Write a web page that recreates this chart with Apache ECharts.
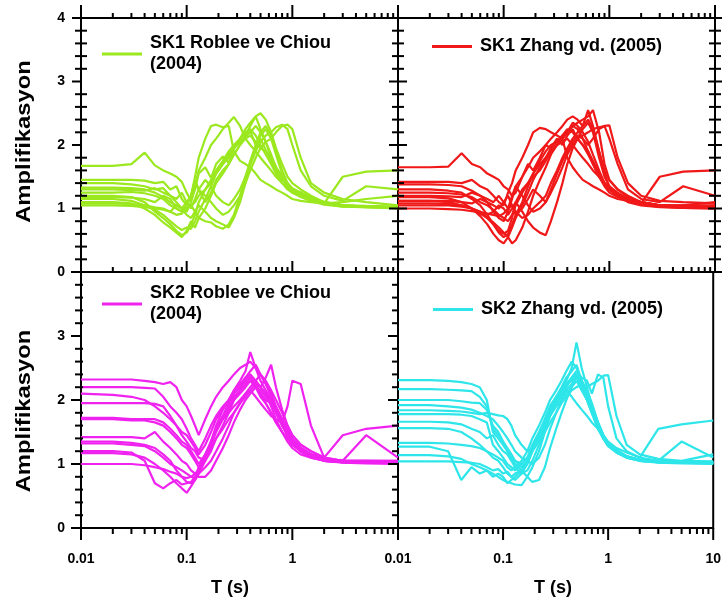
<!DOCTYPE html>
<html><head><meta charset="utf-8">
<script src="https://cdn.jsdelivr.net/npm/echarts@6/dist/echarts.min.js"></script>
<style>html,body{margin:0;padding:0;background:#fff}#c{width:724px;height:599px}</style>
</head><body><div id="c"></div>
<script>
// Periods T (s)
const periods = [0.01,0.02,0.03,0.04,0.05,0.06,0.07,0.08,0.09,0.1,
  0.11,0.12,0.13,0.15,0.17,0.19,0.22,0.25,0.28,0.32,
  0.36,0.4,0.45,0.5,0.56,0.63,0.7,0.8,0.9,1.0,
  1.2,1.5,2.0,3.0,5.0,10];

// SK1 Roblee ve Chiou (2004)
const sk1Roblee = [
 [1.67,1.67,1.70,1.88,1.68,1.60,1.55,1.50,1.42,1.25, 1.12,1.30,1.55,1.65,1.48,1.70,1.82,1.72,1.95,2.05, 2.12,2.22,2.00,2.10,1.92,1.75,1.60,1.45,1.38,1.30, 1.25,1.18,1.10,1.05,1.04,1.03],
 [1.45,1.45,1.45,1.44,1.40,1.42,1.30,1.35,1.15,1.05, 1.20,1.45,1.30,1.10,1.25,1.45,1.60,1.70,1.85,2.00, 2.15,2.30,2.45,2.25,2.05,1.80,1.65,1.50,1.40,1.32, 1.25,1.15,1.08,1.50,1.58,1.60],
 [1.40,1.40,1.38,1.35,1.30,1.32,1.20,1.10,1.00,0.95, 1.10,1.35,1.60,1.80,2.00,2.10,2.25,2.35,2.44,2.30, 2.10,2.00,1.90,1.80,1.70,1.60,1.50,1.40,1.35,1.30, 1.25,1.15,1.10,1.05,1.03,1.02],
 [1.33,1.33,1.32,1.30,1.25,1.18,1.10,1.05,1.00,1.10, 1.20,1.50,1.80,2.10,2.30,2.32,2.28,2.30,1.90,1.75, 1.70,1.65,1.55,1.45,1.40,1.35,1.30,1.25,1.20,1.15, 1.12,1.10,1.08,1.10,1.15,1.20],
 [1.25,1.25,1.26,1.24,1.20,1.15,1.05,1.00,0.95,1.00, 1.05,1.10,1.20,1.30,1.40,1.55,1.70,1.85,1.95,2.10, 2.25,2.35,2.45,2.50,2.40,2.20,1.95,1.70,1.50,1.40, 1.30,1.20,1.10,1.05,1.03,1.02],
 [1.20,1.20,1.18,1.10,0.95,0.85,0.75,0.65,0.58,0.62, 0.75,0.90,1.10,1.30,1.45,1.60,1.75,1.90,2.00,2.10, 2.20,2.25,2.15,2.00,1.85,1.70,1.55,1.40,1.30,1.25, 1.20,1.15,1.10,1.05,1.02,1.01],
 [1.15,1.15,1.12,1.05,0.98,0.90,0.80,0.72,0.66,0.70, 0.68,0.80,0.95,1.15,1.35,1.55,1.70,1.80,1.95,2.05, 2.15,2.20,2.30,2.20,2.05,1.85,1.65,1.50,1.40,1.30, 1.22,1.15,1.08,1.03,1.02,1.00],
 [1.08,1.08,1.07,1.05,1.02,1.00,0.95,1.05,1.00,0.90, 0.85,0.95,1.05,0.95,0.85,0.80,0.75,0.70,0.85,1.10, 1.40,1.70,1.95,2.15,2.25,2.10,1.85,1.55,1.35,1.25, 1.18,1.12,1.08,1.05,1.03,1.02],
 [1.18,1.18,1.17,1.15,1.10,1.20,1.15,1.00,0.95,1.05, 1.20,1.40,1.30,1.20,1.10,1.00,0.90,0.95,1.05,1.20, 1.40,1.60,1.80,1.95,2.05,2.10,2.20,2.30,2.32,2.25, 1.80,1.40,1.25,1.15,1.10,1.05],
 [1.10,1.10,1.08,1.00,0.90,0.78,0.70,0.62,0.55,0.65, 0.80,0.70,0.85,1.00,1.20,1.40,1.55,1.70,1.85,2.00, 2.10,2.15,2.05,1.95,1.90,1.80,1.65,1.50,1.35,1.25, 1.20,1.15,1.10,1.05,1.03,1.02],
 [1.30,1.30,1.29,1.28,1.32,1.25,1.20,1.15,1.25,1.10, 1.00,1.15,1.30,1.45,1.35,1.20,1.10,1.05,1.15,1.30, 1.50,1.70,1.90,2.05,2.15,2.20,2.28,2.32,2.25,2.00, 1.60,1.35,1.20,1.12,1.35,1.30],
 [1.05,1.05,1.04,1.02,1.00,0.98,0.95,0.90,0.92,1.00, 1.05,0.95,0.85,0.80,0.78,0.72,0.68,0.75,0.90,1.20, 1.50,1.75,2.00,2.20,2.30,2.15,1.90,1.60,1.40,1.30, 1.20,1.12,1.06,1.03,1.02,1.01]
];

// SK1 Zhang vd. (2005)
const sk1Zhang = [
 [1.65,1.65,1.66,1.87,1.70,1.65,1.55,1.50,1.45,1.35, 1.30,1.20,1.25,1.50,1.70,1.60,1.80,2.00,1.95,2.10, 2.00,2.15,2.25,2.10,2.00,1.85,1.70,1.50,1.40,1.35, 1.25,1.15,1.10,1.05,1.03,1.02],
 [1.42,1.42,1.42,1.40,1.45,1.35,1.30,1.20,1.10,1.05, 1.25,1.40,1.60,1.80,2.00,2.20,2.27,2.25,2.20,2.15, 2.10,1.80,1.65,1.55,1.45,1.40,1.35,1.30,1.25,1.20, 1.15,1.12,1.08,1.50,1.58,1.60],
 [1.38,1.38,1.37,1.35,1.28,1.20,1.10,0.95,0.85,0.80, 0.95,1.15,1.35,1.50,1.65,1.80,1.90,2.00,2.10,2.20, 2.30,2.40,2.45,2.40,2.30,2.55,2.30,1.90,1.60,1.45, 1.30,1.20,1.10,1.05,1.03,1.02],
 [1.30,1.30,1.28,1.25,1.15,1.05,0.90,0.75,0.62,0.55, 0.60,0.75,0.90,1.10,1.35,1.55,1.75,1.90,2.00,2.05, 2.15,2.25,2.20,2.10,2.00,1.90,1.75,1.55,1.40,1.30, 1.22,1.15,1.10,1.05,1.05,1.10],
 [1.18,1.18,1.16,1.10,1.00,0.88,0.75,0.60,0.50,0.45, 0.55,0.70,0.85,1.05,1.25,1.45,1.65,1.80,1.95,2.05, 2.15,2.20,2.30,2.25,2.10,1.90,1.70,1.50,1.35,1.25, 1.18,1.12,1.08,1.03,1.02,1.01],
 [1.12,1.12,1.10,1.05,1.00,0.92,0.85,0.78,0.70,0.62, 0.55,0.45,0.50,0.70,0.95,1.20,1.45,1.65,1.85,2.00, 2.10,2.20,2.35,2.30,2.20,2.05,1.85,1.60,1.40,1.30, 1.20,1.12,1.06,1.03,1.01,1.00],
 [1.05,1.05,1.05,1.03,1.00,0.95,0.90,0.95,1.05,1.00, 0.90,1.00,1.10,0.95,0.80,0.70,0.62,0.58,0.80,1.10, 1.40,1.70,1.95,2.10,2.25,2.35,2.20,1.80,1.50,1.35, 1.22,1.12,1.06,1.03,1.02,1.01],
 [1.00,1.00,0.99,0.98,0.96,0.94,0.92,0.90,0.88,0.92, 1.00,1.05,0.95,0.85,0.90,1.00,1.10,1.20,1.40,1.60, 1.80,1.95,2.10,2.20,2.30,2.40,2.25,1.90,1.55,1.35, 1.20,1.10,1.05,1.02,1.01,1.00],
 [1.20,1.20,1.19,1.18,1.25,1.20,1.15,1.10,1.20,1.10, 1.00,1.20,1.35,1.20,1.05,0.95,1.00,1.10,1.25,1.45, 1.65,1.85,2.00,2.10,2.15,2.20,2.25,2.28,2.30,2.31, 1.80,1.40,1.20,1.12,1.10,1.08],
 [1.12,1.12,1.12,1.10,1.08,1.15,1.10,1.05,1.00,1.10, 1.20,1.05,0.90,1.00,1.15,1.30,1.20,1.10,1.30,1.55, 1.75,1.90,2.05,2.15,2.10,2.00,2.10,2.25,2.30,2.10, 1.70,1.30,1.15,1.10,1.35,1.20],
 [1.25,1.25,1.24,1.22,1.18,1.10,1.05,0.98,0.90,0.85, 0.80,0.90,1.05,1.25,1.40,1.55,1.70,1.80,1.90,2.00, 2.10,2.20,2.30,2.35,2.40,2.45,2.55,2.20,1.70,1.45, 1.30,1.18,1.10,1.05,1.03,1.02],
 [1.08,1.08,1.07,1.05,1.00,0.95,0.85,0.75,0.65,0.60, 0.65,0.85,1.10,1.30,1.40,1.50,1.60,1.75,1.90,2.00, 2.05,2.10,2.00,1.90,1.80,1.70,1.60,1.50,1.40,1.30, 1.20,1.12,1.08,1.05,1.05,1.05]
];

// SK2 Roblee ve Chiou (2004)
const sk2Roblee = [
 [2.32,2.32,2.32,2.30,2.28,2.25,2.28,2.20,2.00,1.90, 1.75,1.60,1.45,1.70,1.90,2.05,2.20,2.30,2.40,2.50, 2.55,2.60,2.50,2.40,2.30,2.15,2.00,1.80,1.60,1.45, 1.30,1.20,1.10,1.05,1.05,1.04],
 [2.20,2.20,2.20,2.19,2.18,2.05,1.90,1.80,1.70,1.55, 1.40,1.30,1.20,1.40,1.60,1.75,1.90,2.00,2.10,2.20, 2.35,2.45,2.55,2.40,2.25,2.10,1.90,1.70,1.50,1.35, 1.25,1.15,1.08,1.05,1.05,1.05],
 [2.10,2.08,2.05,2.00,1.90,1.80,1.70,1.60,1.50,1.45, 1.35,1.25,1.15,1.30,1.50,1.70,1.85,2.00,2.15,2.30, 2.45,2.75,2.50,2.30,2.15,2.00,1.80,1.60,1.45,1.35, 1.25,1.15,1.08,1.05,1.04,1.03],
 [1.95,1.95,1.95,1.95,1.94,1.90,1.75,1.60,1.45,1.35, 1.25,1.20,1.10,1.05,1.20,1.40,1.60,1.80,2.00,2.15, 2.25,2.35,2.30,2.20,2.35,2.55,2.20,1.85,1.60,1.45, 1.30,1.20,1.10,1.05,1.05,1.05],
 [1.70,1.70,1.68,1.68,1.65,1.60,1.50,1.40,1.30,1.25, 1.15,1.05,0.95,1.10,1.30,1.50,1.70,1.85,2.00,2.10, 2.20,2.30,2.20,2.10,2.00,1.95,1.85,1.70,1.55,1.40, 1.25,1.15,1.08,1.05,1.45,1.10],
 [1.42,1.42,1.42,1.40,1.50,1.35,1.25,1.15,1.05,1.00, 0.90,0.85,0.90,1.10,1.35,1.60,1.85,2.00,2.15,2.25, 2.35,2.40,2.30,2.20,2.10,1.90,1.70,1.50,1.40,1.30, 1.20,1.12,1.06,1.03,1.02,1.02],
 [1.35,1.35,1.33,1.30,1.25,1.15,1.05,0.90,0.80,0.72, 0.70,0.75,0.85,1.05,1.30,1.55,1.75,1.95,2.10,2.20, 2.30,2.40,2.25,2.10,1.95,1.80,1.65,1.50,1.40,1.30, 1.20,1.12,1.05,1.03,1.02,1.02],
 [1.20,1.20,1.18,1.05,0.70,0.62,0.70,0.75,0.68,0.70, 0.72,0.80,0.95,1.15,1.35,1.55,1.75,1.90,2.05,2.15, 2.25,2.35,2.20,2.05,1.95,1.80,1.65,1.50,1.35,1.25, 1.15,1.10,1.05,1.03,1.02,1.02],
 [1.17,1.17,1.15,1.10,1.00,0.90,0.80,0.70,0.62,0.55, 0.65,0.75,0.85,0.95,1.05,1.20,1.40,1.60,1.80,1.95, 2.10,2.20,2.30,2.40,2.25,2.05,1.85,1.65,1.45,1.35, 1.22,1.12,1.05,1.03,1.02,1.01],
 [1.00,1.00,1.00,0.98,0.95,0.92,0.88,0.85,0.80,0.78, 0.80,0.85,0.80,0.80,0.90,1.05,1.25,1.45,1.65,1.85, 2.00,2.10,2.20,2.15,2.05,1.95,1.80,1.60,1.45,1.35, 1.20,1.10,1.05,1.02,1.01,1.00],
 [1.72,1.72,1.70,1.70,1.70,1.65,1.55,1.45,1.35,1.30, 1.20,1.10,1.00,1.15,1.35,1.55,1.70,1.80,1.90,2.00, 2.10,2.15,2.05,1.95,1.85,1.75,1.70,1.65,1.90,2.30, 2.25,1.60,1.10,1.45,1.55,1.60],
 [1.32,1.32,1.30,1.28,1.20,1.10,1.00,0.95,0.90,0.85, 0.80,0.78,0.90,1.10,1.25,1.40,1.55,1.70,1.80,1.95, 2.05,2.15,2.25,2.20,2.10,2.00,1.90,1.70,1.50,1.35, 1.22,1.12,1.06,1.03,1.02,1.02]
];

// SK2 Zhang vd. (2005)
const sk2Zhang = [
 [2.31,2.31,2.30,2.28,2.25,2.20,2.00,1.50,1.40,1.30, 1.20,1.10,1.05,1.00,1.10,1.30,1.50,1.70,1.90,2.05, 2.20,2.35,2.45,2.55,2.30,2.05,1.85,1.60,1.40,1.30, 1.20,1.12,1.06,1.03,1.02,1.02],
 [2.17,2.17,2.16,2.15,2.14,2.05,1.90,1.55,1.45,1.35, 1.25,1.15,1.05,0.95,1.05,1.25,1.45,1.65,1.85,2.00, 2.15,2.30,2.50,2.90,2.50,2.20,1.90,1.60,1.40,1.28, 1.18,1.10,1.05,1.03,1.02,1.01],
 [2.00,2.00,2.00,1.98,1.96,1.95,1.85,1.60,1.50,1.35, 1.20,1.10,1.00,0.90,1.00,1.20,1.40,1.60,1.80,1.95, 2.10,2.20,2.35,2.40,2.20,2.00,1.80,1.55,1.40,1.30, 1.20,1.12,1.06,1.03,1.02,1.02],
 [1.92,1.92,1.90,1.88,1.85,1.80,1.75,1.70,1.60,1.50, 1.40,1.30,1.20,1.10,1.05,1.00,1.10,1.30,1.55,1.80, 2.00,2.20,2.35,2.45,2.35,2.30,2.10,2.40,2.35,1.90, 1.40,1.20,1.10,1.05,1.04,1.03],
 [1.84,1.84,1.83,1.82,1.80,1.78,1.80,1.78,1.76,1.75, 1.70,1.60,1.45,1.30,1.20,1.25,1.40,1.60,1.80,1.95, 2.10,2.15,2.05,1.95,1.85,1.75,1.65,1.55,1.45,1.35, 1.25,1.18,1.10,1.55,1.62,1.68],
 [1.66,1.66,1.65,1.62,1.55,1.50,1.40,1.45,1.30,1.20, 1.15,1.05,0.95,0.85,0.90,1.05,1.30,1.55,1.75,1.90, 2.00,2.10,2.20,2.30,2.15,2.00,1.80,1.60,1.40,1.30, 1.20,1.12,1.06,1.03,1.02,1.02],
 [1.56,1.56,1.55,1.50,1.40,1.30,1.20,1.10,1.05,0.95, 0.85,0.80,0.75,0.85,1.00,1.20,1.45,1.70,1.90,2.05, 2.15,2.25,2.30,2.40,2.25,2.05,1.85,1.60,1.45,1.32, 1.22,1.12,1.06,1.05,1.35,1.10],
 [1.27,1.27,1.20,0.75,0.95,0.85,0.90,0.80,0.85,0.80, 0.70,0.75,0.80,0.90,1.05,1.25,1.45,1.65,1.85,2.00, 2.15,2.25,2.35,2.45,2.30,2.10,1.90,1.65,1.45,1.32, 1.20,1.12,1.06,1.03,1.02,1.02],
 [1.14,1.14,1.12,1.08,1.00,0.95,0.90,0.85,0.80,0.75, 0.72,0.70,0.68,0.67,0.80,0.95,1.20,1.50,1.75,1.95, 2.05,2.15,2.25,2.35,2.20,2.00,1.80,1.55,1.40,1.28, 1.18,1.10,1.05,1.03,1.02,1.01],
 [1.04,1.04,1.04,1.03,1.02,1.00,0.95,0.90,0.92,0.85, 0.88,0.80,0.85,0.90,0.80,0.72,0.75,0.95,1.25,1.55, 1.80,2.00,2.20,2.40,2.30,2.15,1.95,1.65,1.45,1.30, 1.18,1.10,1.05,1.02,1.01,1.00],
 [1.78,1.78,1.78,1.77,1.75,1.70,1.65,1.30,1.20,1.10, 1.00,0.95,0.90,1.00,1.10,1.20,1.35,1.50,1.65,1.80, 1.95,2.05,2.15,2.20,2.25,2.20,2.25,2.30,2.38,2.39, 1.75,1.30,1.15,1.08,1.05,1.04],
 [1.33,1.33,1.32,1.30,1.28,1.25,1.20,1.15,1.10,1.05, 0.95,0.90,0.95,1.05,1.20,1.40,1.60,1.80,2.00,2.15, 2.30,2.45,2.60,2.50,2.30,2.10,1.90,1.65,1.45,1.32, 1.22,1.12,1.06,1.04,1.05,1.15]
];

// Axis ticks and labels
const xMajorTicks = [0.01, 0.1, 1, 10];
const xTickLabels = ['0.01', '0.1', '1', '10'];
const yTickLabels = ['0', '1', '2', '3', '4'];
const legendNames = ['SK1 Roblee ve Chiou\n(2004)', 'SK1 Zhang vd. (2005)', 'SK2 Roblee ve Chiou\n(2004)', 'SK2 Zhang vd. (2005)'];
const colors = ['#9be81f', '#f01818', '#f022f0', '#2ee6ea'];
const curveSets = [sk1Roblee, sk1Zhang, sk2Roblee, sk2Zhang];

curveSets.forEach((s, i) => s.forEach((c, j) => { if (c.length !== periods.length) throw new Error('len ' + i + ',' + j + ':' + c.length); }));

const xMinor = [];
[0.01, 0.1, 1].forEach(d => { for (let k = 2; k <= 9; k++) xMinor.push(+(d * k).toFixed(4)); });
const xTicks = xMajorTicks.map(v => ({ v, major: true })).concat(xMinor.map(v => ({ v, major: false })));
const yTicks = [];
for (let i = 0; i <= 20; i++) yTicks.push({ v: i / 5, major: i % 5 === 0 });

const FONT = '"Liberation Sans", Arial, sans-serif';

const layout = [
  { left: 81, top: 18, height: 254, showX: false, showY: true, hideY: [],
    legend: { left: 97, top: 28 },
    tk: { top: { dir: -1, major: 13, minor: 5 }, bottom: { dir: -1, major: 11, minor: 5 },
          left: { mo: 9, mi: 0, no: 6, ni: 6 }, right: null } },
  { left: 398, top: 18, height: 254, showX: false, showY: false, hideY: [],
    legend: { left: 427, top: 31 },
    tk: { top: { dir: -1, major: 13, minor: 5 }, bottom: { dir: -1, major: 11, minor: 5 },
          left: { mo: 9, mi: 9, no: 6, ni: 6 }, right: { mo: 7, mi: 7, no: 6, ni: 6 } } },
  { left: 81, top: 272, height: 256, showX: true, showY: true, hideY: ['4'], hideX: ['10'],
    legend: { left: 97, top: 278 },
    tk: { top: null, bottom: { dir: 1, major: 12, minor: 6 },
          left: { mo: 10, mi: 0, no: 6, ni: 2 }, right: null } },
  { left: 398, top: 272, height: 256, showX: true, showY: false, hideY: [], hideX: [],
    legend: { left: 428, top: 294 },
    tk: { top: null, bottom: { dir: 1, major: 12, minor: 6 },
          left: { mo: 10, mi: 0, no: 6, ni: 0 }, right: null } }
];

const grid = [], xAxis = [], yAxis = [], series = [], legend = [];
layout.forEach((p, i) => {
  grid.push({ left: p.left, top: p.top, width: 317, height: p.height, show: true,
    borderColor: '#000', borderWidth: 2, backgroundColor: 'transparent', containLabel: false });
  xAxis.push({ type: 'log', logBase: 10, min: 0.01, max: 10, gridIndex: i, splitNumber: 3,
    axisLine: { show: false }, axisTick: { show: false }, splitLine: { show: false }, minorTick: { show: false },
    axisLabel: { show: p.showX, margin: 24, color: '#000', fontSize: 14, fontWeight: 'bold', fontFamily: FONT,
      showMinLabel: true, showMaxLabel: true,
      formatter: v => { const e = Math.round(Math.log10(v)) + 2; const s = xTickLabels[e] || ''; return (p.hideX || []).includes(s) ? '' : s; } } });
  yAxis.push({ type: 'value', min: 0, max: 4, interval: 1, gridIndex: i,
    axisLine: { show: false }, axisTick: { show: false }, splitLine: { show: false },
    axisLabel: { show: p.showY, margin: 16, color: '#000', fontSize: 14, fontWeight: 'bold', fontFamily: FONT,
      formatter: v => { const s = yTickLabels[Math.round(v)] || ''; return p.hideY.includes(s) ? '' : s; } } });
  curveSets[i].forEach(curve => {
    series.push({ type: 'line', name: legendNames[i], xAxisIndex: i, yAxisIndex: i, color: colors[i],
      showSymbol: false, symbol: 'none', animation: false, silent: true,
      lineStyle: { width: 2.2, color: colors[i] },
      data: periods.map((t, k) => [t, curve[k]]) });
  });
  legend.push({ data: [legendNames[i]], left: p.legend.left, top: p.legend.top, orient: 'vertical',
    icon: 'rect', itemWidth: 40, itemHeight: 3, selectedMode: false,
    itemStyle: { color: colors[i] },
    textStyle: { fontSize: 18, fontWeight: 'bold', fontFamily: FONT, color: '#000', lineHeight: 21, padding: [0, 0, 0, 3] } });
  const tk = p.tk;
  series.push({ type: 'custom', xAxisIndex: i, yAxisIndex: i, silent: true, animation: false, z: 10, clip: false,
    data: [[1, 2]],
    renderItem: (params, api) => {
      const ch = [];
      const L = (x1, y1, x2, y2) => ch.push({ type: 'line', shape: { x1, y1, x2, y2 }, style: { stroke: '#000', lineWidth: 2 } });
      if (tk.top) xTicks.forEach(t => { const c = api.coord([t.v, 4]); L(c[0], c[1], c[0], c[1] + tk.top.dir * (t.major ? tk.top.major : tk.top.minor)); });
      if (tk.bottom) xTicks.forEach(t => { const c = api.coord([t.v, 0]); L(c[0], c[1], c[0], c[1] + tk.bottom.dir * (t.major ? tk.bottom.major : tk.bottom.minor)); });
      if (tk.left) yTicks.forEach(t => { const c = api.coord([0.01, t.v]); const o = t.major ? tk.left.mo : tk.left.no, n = t.major ? tk.left.mi : tk.left.ni; L(c[0] - o, c[1], c[0] + n, c[1]); });
      if (tk.right) yTicks.forEach(t => { const c = api.coord([10, t.v]); const o = t.major ? tk.right.mo : tk.right.no, n = t.major ? tk.right.mi : tk.right.ni; L(c[0] - n, c[1], c[0] + o, c[1]); });
      return { type: 'group', children: ch };
    } });
});

const titleStyle = (text, size) => ({ text, font: 'bold ' + size + 'px ' + FONT, fill: '#000', align: 'center', verticalAlign: 'middle', textAlign: 'center', textVerticalAlign: 'middle' });
const graphic = [
  { type: 'text', x: 24, y: 141.5, rotation: Math.PI / 2, scaleX: 1.19, style: titleStyle('Amplifikasyon', 20) },
  { type: 'text', x: 24, y: 411, rotation: Math.PI / 2, scaleX: 1.19, style: titleStyle('Amplifikasyon', 20) },
  { type: 'text', x: 230, y: 588, style: titleStyle('T (s)', 18) },
  { type: 'text', x: 553, y: 588, style: titleStyle('T (s)', 18) }
];

const chart = echarts.init(document.getElementById('c'), null, { renderer: 'canvas' });
chart.setOption({ animation: false, backgroundColor: '#fff', grid, xAxis, yAxis, series, legend, graphic });
</script></body></html>
